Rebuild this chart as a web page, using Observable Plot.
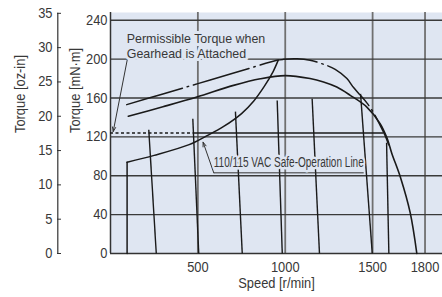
<!DOCTYPE html>
<html><head><meta charset="utf-8">
<script src="https://cdn.jsdelivr.net/npm/d3@7"></script>
<script src="https://cdn.jsdelivr.net/npm/@observablehq/plot@0.6"></script>
<style>
body{margin:0;background:#fff;}
#chart svg{display:block;}
</style></head><body><div id="chart"></div>
<script>
// ---- data ----
const OZ = 7.0616; // mN·m per oz-in
const torqueTicks = [0, 40, 80, 120, 160, 200, 240];
const ozTicks = [0, 5, 10, 15, 20, 25, 30, 35];
const speedTicks = [500, 1000, 1500, 1800];

// Permissible torque when gearhead is attached (dash-dot)
const permSpeed  = [93, 300, 500, 700, 952, 990, 1068, 1142, 1219, 1286, 1353, 1390, 1429, 1467, 1505, 1540, 1570, 1592];
const permTorque = [153.2, 164.2, 174.8, 185.4, 198.8, 199.8, 200.3, 198.8, 194.7, 189.5, 180, 171, 163, 155, 145, 133, 122, 112];

// Motor torque curve (solid)
const mainSpeed  = [102, 300, 494, 704, 858, 1000, 1142, 1219, 1295, 1372, 1467, 1543, 1582, 1610, 1660, 1715, 1753];
const mainTorque = [141.2, 151, 161, 173, 179.8, 183, 180, 176.5, 171.3, 162.8, 150.7, 133.7, 119, 103, 78, 42, 0];

// 110/115 VAC safe-operation line
const safeSpeed  = [95, 95, 250, 450, 550, 650, 750, 820, 880, 930, 960];
const safeTorque = [0, 94, 101, 112, 121, 131, 144, 157, 172, 187, 199];

// Horizontal line (dashed part, solid part)
const levelTorque = [124, 124];
const levelStart = [0, 475];
const levelEnd = [475, 1565];

// Nearly vertical speed lines
const loadTopSpeed    = [219, 471, 715, 954, 1154, 1431, 1580];
const loadTopTorque   = [127.3, 138.6, 146, 157.4, 159.2, 164.3, 114];
const loadBottomSpeed = [262, 505, 754, 983, 1196, 1498, 1593];

// annotations
const noteText = ["Permissible Torque when\nGearhead is Attached", "110/115 VAC Safe-Operation Line"];
const noteSpeed = [93, 591];
const noteTorque = [201.4, 88.8];

// ---- build tables ----
const rows = (xs, ys) => xs.map((x, i) => ({x, y: ys[i]}));
const perm = rows(permSpeed, permTorque);
const main = rows(mainSpeed, mainTorque);
const safeVert = rows(safeSpeed.slice(0, 2), safeTorque.slice(0, 2));
const safeCurve = rows(safeSpeed.slice(1), safeTorque.slice(1));
const loads = loadTopSpeed.map((s, i) => ({x1: loadBottomSpeed[i], y1: 0, x2: s, y2: loadTopTorque[i]}));
const levels = levelStart.map((s, i) => ({x1: s, x2: levelEnd[i], y: levelTorque[i], dashed: i === 0}));

const font = '"Liberation Sans",Arial,sans-serif';
const bg = "#dfe6f2";
const ink = "#1a1a1a";
const txt = "#383838";

const chart = Plot.plot({
  width: 442, height: 297,
  marginLeft: 110, marginRight: 0, marginTop: 12, marginBottom: 44,
  style: {fontFamily: font, fontSize: "14px", color: txt, background: "#fff"},
  x: {domain: [0, 1900]},
  y: {domain: [0, 248]},
  marks: [
    Plot.frame({fill: bg, stroke: null}),
    Plot.gridX(speedTicks, {stroke: "#707070", strokeOpacity: 1, strokeWidth: 1.8}),
    Plot.gridY(torqueTicks.filter(d => d > 0), {stroke: "#3a3a3a", strokeOpacity: 1, strokeWidth: 1.3}),
    Plot.ruleX([0], {stroke: "#333", strokeWidth: 1.5}),
    Plot.ruleY([0], {stroke: "#333", strokeWidth: 1.5}),
    Plot.axisX(speedTicks, {tickSize: 0, tickPadding: 8.5, label: null, fill: txt, tickFormat: d => String(d)}),
    Plot.axisY(torqueTicks, {tickSize: 0, tickPadding: 3, label: null, fill: txt, tickFormat: d => String(d)}),
    Plot.axisY(ozTicks.map(d => d * OZ), {tickSize: 4, dx: -49, tickPadding: 5, label: null, fill: txt, stroke: "#333",
      tickFormat: d => String(Math.round(d / OZ))}),
    Plot.ruleX([0], {y1: 0, y2: ozTicks[ozTicks.length - 1] * OZ, dx: -52.7, stroke: "#333", strokeWidth: 1.2}),
    Plot.text(["Speed [r/min]"], {text: d => d, frameAnchor: "bottom", dy: 34, lineAnchor: "bottom", fill: txt}),
    Plot.text(["Torque [mN·m]"], {text: d => d, frameAnchor: "left", dx: -34.5, rotate: -90, fill: txt}),
    Plot.text(["Torque [oz-in]"], {text: d => d, frameAnchor: "left", dx: -90, rotate: -90, fill: txt}),

    // curves
    Plot.link(loads, {x1: "x1", y1: "y1", x2: "x2", y2: "y2", stroke: ink, strokeWidth: 1.4}),
    Plot.ruleY(levels.filter(d => d.dashed), {y: "y", x1: "x1", x2: "x2", stroke: ink, strokeWidth: 1.3, strokeDasharray: "3,2.5"}),
    Plot.ruleY(levels.filter(d => !d.dashed), {y: "y", x1: "x1", x2: "x2", stroke: ink, strokeWidth: 1.3}),
    Plot.line(safeVert, {x: "x", y: "y", stroke: ink, strokeWidth: 1.5}),
    Plot.line(safeCurve, {x: "x", y: "y", stroke: ink, strokeWidth: 1.5, curve: "catmull-rom"}),
    Plot.line(main, {x: "x", y: "y", stroke: ink, strokeWidth: 1.6, curve: "catmull-rom"}),
    Plot.line(perm, {x: "x", y: "y", stroke: ink, strokeWidth: 1.5, curve: "catmull-rom", strokeDasharray: "58,5,1.5,5"}),

    // annotation 2: underline + leader
    Plot.link([{x1: 1449, x2: noteSpeed[1], y: 83}], {x1: "x1", x2: "x2", y1: "y", y2: "y", stroke: "#333", strokeWidth: 1}),
    Plot.arrow([{x1: noteSpeed[1], y1: 83, x2: 530, y2: 114.5}], {x1: "x1", y1: "y1", x2: "x2", y2: "y2", stroke: "#333", strokeWidth: 1, headLength: 7, headAngle: 40}),
    // annotation 1 leader
    Plot.arrow([{x1: 95.5, y1: 199, x2: 15.5, y2: 125.5}], {x1: "x1", y1: "y1", x2: "x2", y2: "y2", stroke: "#333", strokeWidth: 1, headLength: 7, headAngle: 40}),

    Plot.text([0], {x: noteSpeed[0], y: noteTorque[0], text: [noteText[0]], textAnchor: "start", lineAnchor: "bottom", lineHeight: 1.1, fill: txt, stroke: bg, strokeWidth: 6, fontSize: 13.5}),
    Plot.text([0], {x: noteSpeed[1], y: noteTorque[1], text: [noteText[1]], textAnchor: "start", lineAnchor: "bottom", fill: txt, stroke: bg, strokeWidth: 5, fontSize: 14})
  ]
});
// mimic the reference's condensed face
chart.querySelectorAll("text").forEach(t => {
  if (t.textContent === noteText[1]) {
    t.setAttribute("textLength", 150);
    t.setAttribute("lengthAdjust", "spacingAndGlyphs");
  } else {
    const tr = t.getAttribute("transform");
    if (tr) t.setAttribute("transform", tr + " scale(0.92,1)");
  }
});
document.getElementById("chart").append(chart);
</script>
</body></html>
